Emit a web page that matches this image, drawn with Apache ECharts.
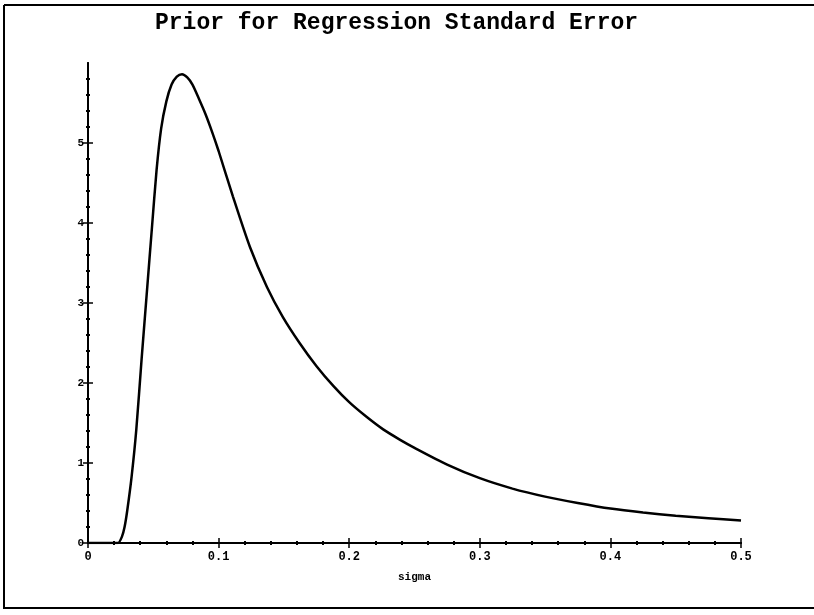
<!DOCTYPE html>
<html>
<head>
<meta charset="utf-8">
<script src="https://cdn.jsdelivr.net/npm/echarts@6/dist/echarts.min.js"></script>
<style>html,body{margin:0;padding:0;background:#fff}#c{width:814px;height:615px}</style>
</head>
<body>
<div id="c"></div>
<script>
const titleText = "Prior for Regression Standard Error";
const xName = "sigma";
const sigma = [0, 0.020, 0.023, 0.026, 0.028, 0.030, 0.0334, 0.037, 0.041, 0.045, 0.049, 0.0525, 0.056, 0.060, 0.064, 0.068, 0.072, 0.076, 0.080, 0.085, 0.090, 0.095, 0.100, 0.111, 0.124, 0.137, 0.149, 0.162, 0.175, 0.188, 0.200, 0.213, 0.226, 0.239, 0.250, 0.275, 0.300, 0.325, 0.350, 0.375, 0.400, 0.425, 0.450, 0.475, 0.500];
const density = [0, 0, 0.0, 0.08, 0.2, 0.4, 0.83, 1.42, 2.29, 3.12, 3.95, 4.66, 5.18, 5.52, 5.73, 5.83, 5.86, 5.82, 5.73, 5.55, 5.36, 5.14, 4.90, 4.33, 3.70, 3.20, 2.83, 2.50, 2.21, 1.96, 1.76, 1.58, 1.42, 1.29, 1.19, 0.98, 0.81, 0.68, 0.58, 0.50, 0.43, 0.38, 0.34, 0.31, 0.28];
const xTicks = [0, 0.1, 0.2, 0.3, 0.4, 0.5];
const yTicks = [0, 1, 2, 3, 4, 5];

const font = "'Liberation Mono', 'DejaVu Sans Mono', monospace";
const chart = echarts.init(document.getElementById('c'));
const pts = sigma.map((s, i) => [s, density[i]]);

function xAxisDef(inside, showLabel) {
  return {
    type: 'value', min: 0, max: 0.5, interval: 0.1, position: 'bottom',
    name: showLabel ? xName : '', nameLocation: 'middle', nameGap: 29,
    nameTextStyle: {fontFamily: font, fontWeight: 'bold', fontSize: 11, color: '#000'},
    axisLine: {show: true, onZero: false, lineStyle: {color: '#000', width: 2}},
    axisTick: {show: true, inside: inside, length: 5, lineStyle: {color: '#000', width: 1.5}},
    minorTick: {show: true, splitNumber: 5, length: 2, lineStyle: {color: '#000', width: 2}},
    splitLine: {show: false}, minorSplitLine: {show: false},
    axisLabel: {show: showLabel, fontFamily: font, fontWeight: 'bold', fontSize: 12, color: '#000', margin: 8,
      formatter: v => xTicks.some(t => Math.abs(t - v) < 1e-9) ? String(+v.toFixed(1)) : ''}
  };
}
function yAxisDef(inside, showLabel) {
  return {
    type: 'value', min: 0, max: 6, interval: 1, position: 'left',
    axisLine: {show: true, onZero: false, lineStyle: {color: '#000', width: 2}},
    axisTick: {show: true, inside: inside, length: 5, customValues: yTicks, lineStyle: {color: '#000', width: 1.5}},
    minorTick: {show: true, splitNumber: 5, length: 2, lineStyle: {color: '#000', width: 2}},
    splitLine: {show: false}, minorSplitLine: {show: false},
    axisLabel: {show: showLabel, fontFamily: font, fontWeight: 'bold', fontSize: 11, color: '#000', margin: 4,
      customValues: yTicks, formatter: v => String(v)}
  };
}

chart.setOption({
  backgroundColor: '#fff',
  animation: false,
  title: {text: titleText, left: 150, top: 7,
    textStyle: {fontFamily: font, fontWeight: 'bold', fontSize: 23, color: '#000'}},
  grid: {left: 88, right: 73, top: 63, bottom: 72, containLabel: false},
  xAxis: [xAxisDef(false, true), xAxisDef(true, false)],
  yAxis: [yAxisDef(false, true), yAxisDef(true, false)],
  series: [{
    type: 'line', data: pts, xAxisIndex: 0, yAxisIndex: 0,
    showSymbol: false, smooth: 0.25,
    lineStyle: {color: '#000', width: 2.5}
  }],
  graphic: [
    {type: 'line', shape: {x1: 4, y1: 5, x2: 814, y2: 5}, style: {stroke: '#000', lineWidth: 2}},
    {type: 'line', shape: {x1: 4, y1: 5, x2: 4, y2: 609}, style: {stroke: '#000', lineWidth: 2}},
    {type: 'line', shape: {x1: 4, y1: 608, x2: 814, y2: 608}, style: {stroke: '#000', lineWidth: 2}}
  ]
});
</script>
</body>
</html>
